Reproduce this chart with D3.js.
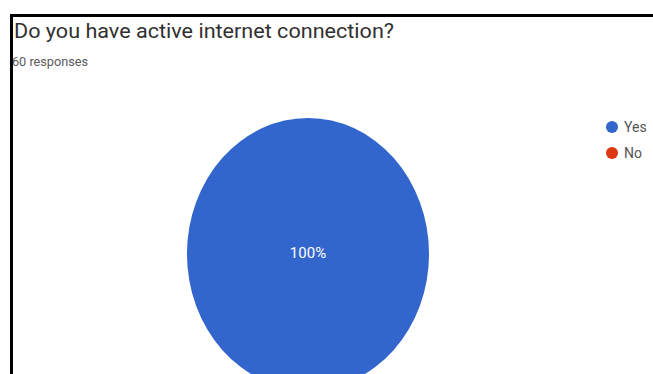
<!DOCTYPE html>
<html>
<head>
<meta charset="utf-8">
<script src="https://cdn.jsdelivr.net/npm/d3@7"></script>
<style>
  html, body { margin: 0; padding: 0; background: #fff; overflow: hidden; }
  svg { display: block; }
</style>
</head>
<body>
<svg id="chart" width="653" height="374"></svg>
<script>
const title = "Do you have active internet connection?";
const subtitle = "60 responses";
const categories = ["Yes", "No"];
const values = [60, 0];
const colors = ["#3366cc", "#dc3912"];
const centerLabels = ["100%", ""];

const svg = d3.select("#chart");

// frame
svg.append("rect")
  .attr("x", 11.5).attr("y", 15.5)
  .attr("width", 700).attr("height", 400)
  .attr("fill", "#fff")
  .attr("stroke", "#000").attr("stroke-width", 3);

svg.append("text")
  .attr("x", 14).attr("y", 38)
  .attr("font-family", "Roboto, sans-serif")
  .attr("font-size", 21)
  .attr("fill", "#303030")
  .attr("textLength", 380)
  .attr("lengthAdjust", "spacingAndGlyphs")
  .text(title);

svg.append("text")
  .attr("x", 12).attr("y", 66)
  .attr("font-family", "Roboto, sans-serif")
  .attr("font-size", 13)
  .attr("fill", "#5a5a5a")
  .attr("textLength", 76)
  .attr("lengthAdjust", "spacingAndGlyphs")
  .text(subtitle);

const cx = 308, cy = 254, rx = 121, ry = 136;
const pie = d3.pie().sort(null).value(d => d)(values);
const arc = d3.arc().innerRadius(0).outerRadius(rx);

const g = svg.append("g")
  .attr("transform", `translate(${cx},${cy}) scale(1,${ry / rx})`);

g.selectAll("path")
  .data(pie)
  .join("path")
  .attr("d", arc)
  .attr("fill", (d, i) => colors[i]);

svg.append("g")
  .selectAll("text")
  .data(pie.filter(d => d.value > 0))
  .join("text")
  .attr("x", cx).attr("y", cy + 4)
  .attr("text-anchor", "middle")
  .attr("font-family", "Roboto, sans-serif")
  .attr("font-size", 15)
  .attr("fill", "#fff")
  .text(d => centerLabels[d.index]);

// legend
const legend = svg.append("g")
  .selectAll("g")
  .data(categories)
  .join("g")
  .attr("transform", (d, i) => `translate(612,${127 + i * 26})`);

legend.append("circle")
  .attr("r", 6)
  .attr("fill", (d, i) => colors[i]);

legend.append("text")
  .attr("x", 12).attr("y", 5)
  .attr("font-family", "Roboto, sans-serif")
  .attr("font-size", 14)
  .attr("fill", "#555")
  .text(d => d);
</script>
</body>
</html>
